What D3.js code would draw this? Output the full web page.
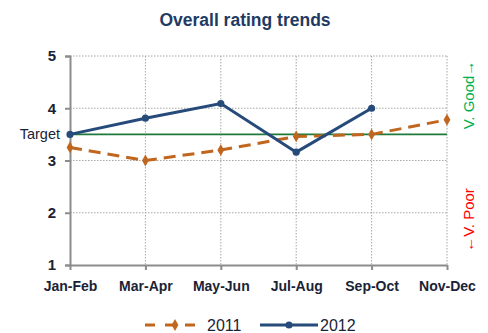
<!DOCTYPE html>
<html>
<head>
<meta charset="utf-8">
<script src="https://cdn.jsdelivr.net/npm/d3@7"></script>
<style>
  html, body { margin: 0; padding: 0; background: #fff; }
  svg { display: block; font-family: "Liberation Sans", Arial, sans-serif; }
</style>
</head>
<body>
<svg id="chart" width="488" height="333"></svg>
<script>
// Bi-monthly periods along the x axis
const periods = ["Jan-Feb", "Mar-Apr", "May-Jun", "Jul-Aug", "Sep-Oct", "Nov-Dec"];
// Average rating per period
const ratings2011 = [3.25, 3.0, 3.2, 3.46, 3.5, 3.78];
const ratings2012 = [3.5, 3.81, 4.09, 3.16, 4.0];
const yTicks = [1, 2, 3, 4, 5];
const targetValue = 3.5;
const seriesNames = ["2011", "2012"];

const svg = d3.select("#chart");
const plot = { left: 70, right: 447, top: 56, bottom: 265 };

const x = d3.scalePoint().domain(periods).range([plot.left, plot.right]);
const y = d3.scaleLinear().domain([1, 5]).range([plot.bottom, plot.top]);

const colors = { "2011": "#c0661e", "2012": "#264a7a" };
const axisGray = "#8c8c8c";
const textDark = "#1a2336";

// Dotted grid: horizontal at each tick, vertical at each period
svg.append("g").selectAll("line").data(yTicks.filter(d => d > 1)).join("line")
  .attr("x1", plot.left).attr("x2", plot.right)
  .attr("y1", d => y(d)).attr("y2", d => y(d))
  .attr("stroke", "#a6a6a6").attr("stroke-width", 1).attr("stroke-dasharray", "1.5,1.5");
svg.append("g").selectAll("line").data(periods.slice(1)).join("line")
  .attr("x1", d => x(d)).attr("x2", d => x(d))
  .attr("y1", plot.top).attr("y2", plot.bottom)
  .attr("stroke", "#a6a6a6").attr("stroke-width", 1).attr("stroke-dasharray", "1.5,1.5");

// Y axis
const yAxis = svg.append("g").attr("transform", `translate(${plot.left},0)`)
  .call(d3.axisLeft(y).tickValues(yTicks).tickSize(5).tickPadding(9).tickFormat(d3.format("d")));
yAxis.select(".domain").attr("stroke", axisGray).attr("stroke-width", 2);
yAxis.selectAll(".tick line").attr("stroke", axisGray).attr("stroke-width", 2);
yAxis.selectAll(".tick text").attr("fill", textDark).attr("font-size", 15).attr("font-weight", "bold");

// X axis
const xAxis = svg.append("g").attr("transform", `translate(0,${plot.bottom})`)
  .call(d3.axisBottom(x).tickSize(5).tickSizeOuter(0).tickPadding(11));
xAxis.select(".domain").attr("stroke", axisGray).attr("stroke-width", 2);
xAxis.selectAll(".tick line").attr("stroke", axisGray).attr("stroke-width", 2);
xAxis.selectAll(".tick text").attr("fill", textDark).attr("font-size", 14).attr("font-weight", "bold");

// Target line
svg.append("line")
  .attr("x1", plot.left).attr("x2", plot.right)
  .attr("y1", y(targetValue)).attr("y2", y(targetValue))
  .attr("stroke", "#1e7a3a").attr("stroke-width", 1.6);
svg.append("text")
  .attr("x", plot.left - 10).attr("y", y(targetValue)).attr("dy", "0.35em")
  .attr("text-anchor", "end").attr("font-size", 14.5).attr("fill", textDark)
  .text("Target");

const line = d3.line().x((d, i) => x(periods[i])).y(d => y(d));
const diamond = d3.symbol().type(d3.symbolDiamond).size(40);
const circle = d3.symbol().type(d3.symbolCircle).size(40);

// 2011 series: dashed with diamond markers
svg.append("path").datum(ratings2011)
  .attr("d", line).attr("fill", "none")
  .attr("stroke", colors["2011"]).attr("stroke-width", 3).attr("stroke-dasharray", "12,7");
svg.append("g").selectAll("path").data(ratings2011).join("path")
  .attr("d", diamond)
  .attr("transform", (d, i) => `translate(${x(periods[i])},${y(d)})`)
  .attr("fill", colors["2011"]);

// 2012 series: solid with round markers
svg.append("path").datum(ratings2012)
  .attr("d", line).attr("fill", "none")
  .attr("stroke", colors["2012"]).attr("stroke-width", 3);
svg.append("g").selectAll("path").data(ratings2012).join("path")
  .attr("d", circle)
  .attr("transform", (d, i) => `translate(${x(periods[i])},${y(d)})`)
  .attr("fill", colors["2012"]);

// Title
svg.append("text")
  .attr("x", 245).attr("y", 26).attr("text-anchor", "middle")
  .attr("font-size", 17.5).attr("font-weight", "bold").attr("fill", "#1f3b64")
  .text("Overall rating trends");

// Side annotations
svg.append("text")
  .attr("transform", `translate(474,95) rotate(-90)`)
  .attr("text-anchor", "middle").attr("font-size", 15).attr("fill", "#00b050")
  .text("V. Good\u2192");
svg.append("text")
  .attr("transform", `translate(474,220) rotate(-90)`)
  .attr("text-anchor", "middle").attr("font-size", 15).attr("fill", "#ff0000")
  .text("\u2190V. Poor");

// Legend
const legendY = 325;
const lg = svg.append("g");
const legendItems = [
  { name: seriesNames[0], x0: 145, x1: 205, dashed: true, sym: diamond },
  { name: seriesNames[1], x0: 260, x1: 318, dashed: false, sym: circle }
];
legendItems.forEach(it => {
  lg.append("line")
    .attr("x1", it.x0).attr("x2", it.x1).attr("y1", legendY).attr("y2", legendY)
    .attr("stroke", colors[it.name]).attr("stroke-width", 3)
    .attr("stroke-dasharray", it.dashed ? "10,10" : null);
  lg.append("path").attr("d", it.sym)
    .attr("transform", `translate(${(it.x0 + it.x1) / 2},${legendY})`)
    .attr("fill", colors[it.name]);
  lg.append("text")
    .attr("x", it.x1 + 2).attr("y", legendY).attr("dy", "0.35em")
    .attr("font-size", 16).attr("fill", textDark)
    .text(it.name);
});
</script>
</body>
</html>
